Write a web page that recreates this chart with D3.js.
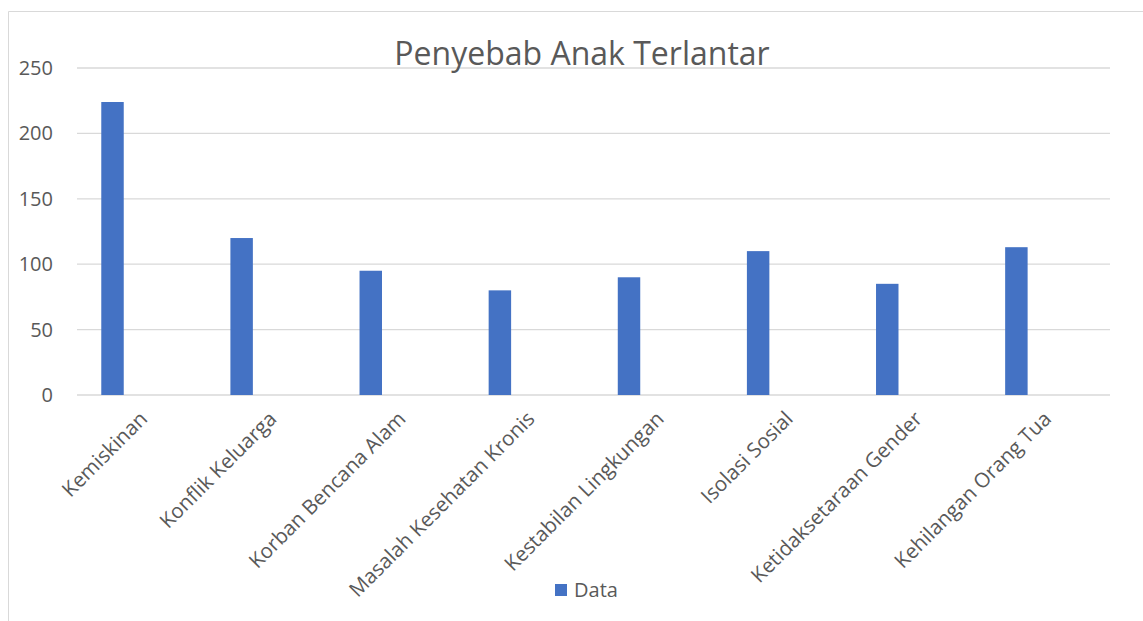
<!DOCTYPE html>
<html>
<head>
<meta charset="utf-8">
<script src="https://cdn.jsdelivr.net/npm/d3@7"></script>
<style>
  body { margin: 0; background: #fff; }
  text { font-family: "Open Sans", sans-serif; fill: #595959; }
</style>
</head>
<body>
<div id="chartDiv"></div>
<script>
// chart data
const categories = ["Kemiskinan", "Konflik Keluarga", "Korban Bencana Alam", "Masalah Kesehatan Kronis",
  "Kestabilan Lingkungan", "Isolasi Sosial", "Ketidaksetaraan Gender", "Kehilangan Orang Tua"];
const values = [224, 120, 95, 80, 90, 110, 85, 113];
const yTicks = [0, 50, 100, 150, 200, 250];
const seriesName = "Data";
const title = "Penyebab Anak Terlantar";

const W = 1143, H = 621;
const margin = {top: 68, right: 33, bottom: 226, left: 77};
const width = W - margin.left - margin.right,
  height = H - margin.top - margin.bottom;

const svg = d3.select("#chartDiv").append("svg")
  .attr("width", W)
  .attr("height", H);

// chart frame (left and top edge visible)
svg.append("path")
  .attr("d", "M8.5," + H + "V11.5H" + W)
  .attr("fill", "none")
  .attr("stroke", "#d9d9d9")
  .attr("stroke-width", 1);

const g = svg.append("g")
  .attr("transform", "translate(" + margin.left + "," + margin.top + ")");

const x = d3.scaleBand().domain(categories).range([0, width]).padding(0);
const y = d3.scaleLinear().domain([0, 250]).range([height, 0]);

// gridlines
g.selectAll(".grid")
  .data(yTicks)
  .enter().append("line")
  .attr("x1", 0).attr("x2", width)
  .attr("y1", d => y(d)).attr("y2", d => y(d))
  .attr("stroke", "#d9d9d9")
  .attr("stroke-width", 1.3);

// y axis labels
const yAxis = g.append("g")
  .call(d3.axisLeft(y).tickValues(yTicks).tickSize(0).tickPadding(24));
yAxis.select(".domain").remove();
yAxis.selectAll("text")
  .style("font-size", "20px")
  .attr("fill", "#595959");

// bars, sitting in the left part of each band
const bw = x.bandwidth();
g.selectAll(".bar")
  .data(values)
  .enter().append("rect")
  .attr("x", (d, i) => x(categories[i]) + bw * 0.188)
  .attr("width", bw * 0.174)
  .attr("y", d => y(d))
  .attr("height", d => height - y(d))
  .attr("fill", "#4472c4");

// x labels, rotated
g.selectAll(".xlab")
  .data(categories)
  .enter().append("text")
  .attr("transform", d => "translate(" + (x(d) + bw / 2 + 2) + "," + (height + 20) + ") rotate(-45)")
  .attr("text-anchor", "end")
  .attr("dy", "0.35em")
  .style("font-size", "20.5px")
  .text(d => d);

// title
svg.append("text")
  .attr("x", 582)
  .attr("y", 65)
  .attr("text-anchor", "middle")
  .style("font-size", "32px")
  .text(title);

// legend
svg.append("rect")
  .attr("x", 555).attr("y", 584)
  .attr("width", 12).attr("height", 12)
  .attr("fill", "#4472c4");
svg.append("text")
  .attr("x", 574).attr("y", 597)
  .style("font-size", "20px")
  .text(seriesName);
</script>
</body>
</html>
